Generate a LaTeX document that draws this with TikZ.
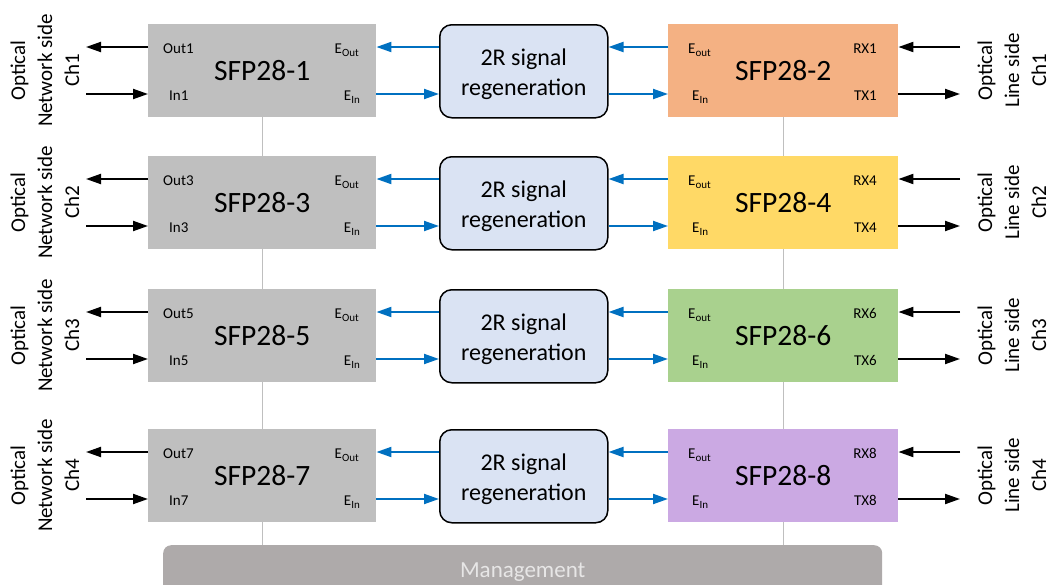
\documentclass[tikz,border=0pt]{standalone}
\usepackage{fontspec}
\setmainfont{Carlito}
\usetikzlibrary{arrows.meta}
\definecolor{sfpgray}{HTML}{BFBFBF}
\definecolor{regfill}{HTML}{DAE3F3}
\definecolor{sblue}{HTML}{0070C0}
\definecolor{cA}{HTML}{F4B183}
\definecolor{cB}{HTML}{FFD966}
\definecolor{cC}{HTML}{A9D18E}
\definecolor{cD}{HTML}{CBA9E3}
\definecolor{mgmtfill}{HTML}{AEAAAA}
\definecolor{mgmttext}{HTML}{E7E6E6}
\definecolor{vline}{HTML}{BFBFBF}
\newcommand\subtx[1]{\raisebox{-3pt}{\fontsize{11}{11}\selectfont #1}}
\begin{document}
\begin{tikzpicture}[x=1pt,y=-1pt,
  sfp/.style={minimum width=228pt,minimum height=93pt,anchor=north west,inner sep=0pt,font=\fontsize{29.5}{31}\selectfont},
  regbox/.style={draw=black,line width=1.5pt,fill=regfill,rounded corners=12pt,minimum width=168pt,minimum height=93pt,anchor=north west,inner sep=0pt},
  regtext/.style={align=center,inner sep=0pt,font=\fontsize{24}{30}\selectfont},
  port/.style={inner sep=0pt,font=\fontsize{15}{17}\selectfont},
  side/.style={rotate=90,align=center,inner sep=0pt,font=\fontsize{21}{27}\selectfont},
  barrow/.style={line width=2pt,-{Triangle[length=15pt,width=10pt]}},
  blarrow/.style={line width=2pt,sblue,-{Triangle[length=15pt,width=10pt]}},
  vl/.style={draw=vline,line width=1pt},
  mgmt/.style={fill=mgmtfill,rounded corners=8pt,minimum width=719pt,minimum height=54pt,anchor=north west,inner sep=0pt,text=mgmttext,font=\fontsize{23}{25}\selectfont}
]
\useasboundingbox (0,0) rectangle (1050,584);
\node[mgmt] (MG) at (163,545) {Management};
\foreach \i/\t/\l/\r/\rx/\col in {1/24/1/2/1/cA, 2/156/3/4/4/cB, 3/289/5/6/6/cC, 4/429/7/8/8/cD} {
  \node[sfp,fill=sfpgray] (L\i) at (148,\t) {SFP28-\l};
  \node[regbox] (M\i) at (439,\t) {};
  \node[regtext] (MT\i) at ([yshift=-3pt]M\i.center) {2R signal\\regeneration};
  \node[sfp,fill=\col,minimum width=230pt] (R\i) at (668,\t) {SFP28-\r};
  \coordinate (top\i) at (0,\t+23);
  \coordinate (bot\i) at (0,\t+70);
  \coordinate (LO\i) at (86,\t+23);
  \coordinate (LI\i) at (86,\t+70);
  \coordinate (RI\i) at (960,\t+23);
  \coordinate (RO\i) at (960,\t+70);
  \node[port,anchor=base west] (pO\i) at (163,\t+29) {Out\l};
  \node[port,anchor=base west] (pI\i) at (169,\t+76) {In\l};
  \node[port,anchor=base east] (pEO\i) at (359,\t+29) {E\subtx{Out}};
  \node[port,anchor=base east] (pEI\i) at (360,\t+76) {E\subtx{In}};
  \node[port,anchor=base west] (qEO\i) at (688,\t+29) {E\subtx{out}};
  \node[port,anchor=base west] (qEI\i) at (692,\t+76) {E\subtx{In}};
  \node[port,anchor=base east] (qRX\i) at (877,\t+29) {RX\rx};
  \node[port,anchor=base east] (qTX\i) at (877,\t+76) {TX\rx};
  \node[side] (NL\i) at (45,\t+46.5) {Optical\\Network side\\Ch\i};
  \node[side] (NR\i) at (1012,\t+46.5) {Optical\\Line side\\Ch\i};
  \draw[barrow] (L\i.west |- top\i) -- (LO\i);
  \draw[barrow] (LI\i) -- (L\i.west |- bot\i);
  \draw[blarrow] (M\i.west |- top\i) -- (L\i.east |- top\i);
  \draw[blarrow] (L\i.east |- bot\i) -- (M\i.west |- bot\i);
  \draw[blarrow] (R\i.west |- top\i) -- (M\i.east |- top\i);
  \draw[blarrow] (M\i.east |- bot\i) -- (R\i.west |- bot\i);
  \draw[barrow] (RI\i) -- (R\i.east |- top\i);
  \draw[barrow] (R\i.east |- bot\i) -- (RO\i);
}
\foreach \a/\b in {1/2,2/3,3/4} {
  \draw[vl] (L\a.south) -- (L\b.north);
  \draw[vl] (R\a.south) -- (R\b.north);
}
\draw[vl] (L4.south) -- (L4.south |- MG.north);
\draw[vl] (R4.south) -- (R4.south |- MG.north);
\end{tikzpicture}
\end{document}
